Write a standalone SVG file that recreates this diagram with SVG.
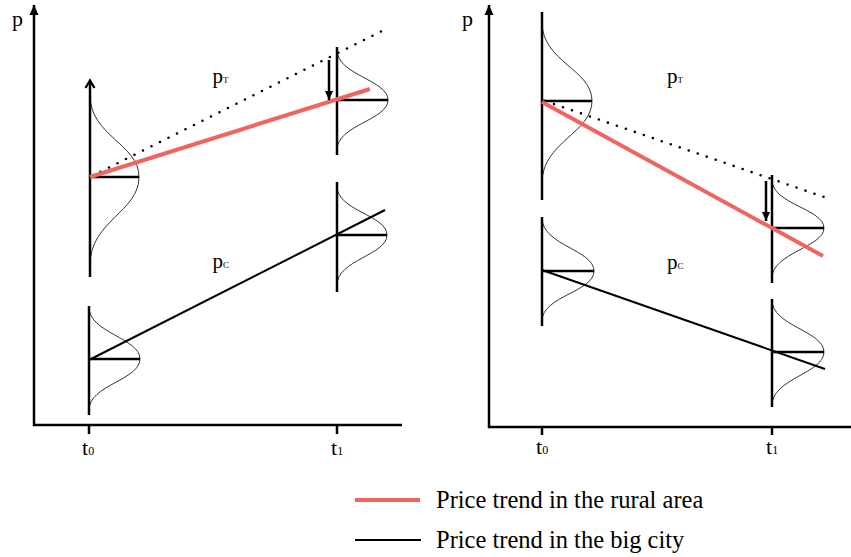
<svg xmlns="http://www.w3.org/2000/svg" width="851" height="557" viewBox="0 0 851 557">
<defs>
<style>
.ax{stroke:#000;stroke-width:2.5;fill:none}
.vl{stroke:#000;stroke-width:2.5;fill:none}
.hl{stroke:#000;stroke-width:2.3;fill:none}
.bell{stroke:#000;stroke-width:0.8;fill:none}
.city{stroke:#000;stroke-width:2;fill:none}
.rural{stroke:#f06560;stroke-width:4;fill:none;stroke-linecap:butt}
.dot{stroke:#000;stroke-width:2.6;fill:none;stroke-linecap:round;stroke-dasharray:0 9.5}
.lbl{font-family:"Liberation Serif","Times New Roman",serif;fill:#000}
</style>
<marker id="ah" viewBox="0 0 10 10" refX="10" refY="5" markerWidth="10" markerHeight="10" markerUnits="userSpaceOnUse" orient="auto">
<path d="M0,0.5 L10,5 L0,9.5 Z" fill="#000"/>
</marker>
<marker id="ahs" viewBox="0 0 10 10" refX="10" refY="5" markerWidth="10" markerHeight="9" markerUnits="userSpaceOnUse" orient="auto">
<path d="M0,0.5 L10,5 L0,9.5 Z" fill="#000"/>
</marker>
</defs>
<rect width="851" height="557" fill="#fff"/>

<g id="panel-left">
<g id="left-axes">
<line class="ax" x1="34" y1="426" x2="34" y2="5" marker-end="url(#ah)"/>
<line class="ax" x1="33" y1="425" x2="402" y2="425"/>
<line class="ax" x1="89" y1="425" x2="89" y2="434"/>
<line class="ax" x1="337" y1="425" x2="337" y2="434"/>
<text class="lbl" x="12" y="25.5" font-size="22">p</text>
<text class="lbl" x="82" y="455" font-size="22">t<tspan font-size="12">0</tspan></text>
<text class="lbl" x="331" y="455" font-size="22">t<tspan font-size="12">1</tspan></text>
</g>
<g id="left-labels">
<text class="lbl" x="212.5" y="83" font-size="21">p<tspan font-size="9">T</tspan></text>
<text class="lbl" x="212.5" y="268" font-size="21">p<tspan font-size="9">C</tspan></text>
</g>
<g id="left-dist-t0-rural">
<line class="vl" x1="90" y1="277" x2="90" y2="81"/>
<path class="hl" d="M85.5,88 L90,80.5 L94.5,88" stroke-width="1.8"/>
<line class="hl" x1="90" y1="177" x2="139" y2="177"/>
<path class="bell" d="M90,95 C90,136 139,144 139,177 C139,212 90,221 90,265"/>
</g>
<g id="left-dist-t1-rural">
<line class="vl" x1="337" y1="47" x2="337" y2="155"/>
<line class="hl" x1="337" y1="100" x2="388" y2="100"/>
<path class="bell" d="M337,50 C337,75 388,80 388,100 C388,120 337,125 337,150"/>
</g>
<g id="left-dist-t1-city">
<line class="vl" x1="337" y1="182" x2="337" y2="292"/>
<line class="hl" x1="337" y1="235" x2="387" y2="235"/>
<path class="bell" d="M337,186 C337,211 387,215 387,235 C387,255 337,260 337,285"/>
</g>
<g id="left-dist-t0-city">
<line class="vl" x1="89" y1="306" x2="89" y2="415"/>
<line class="hl" x1="89" y1="359" x2="140" y2="359"/>
<path class="bell" d="M89,307 C89,333 140,338 140,359 C140,380 89,385 89,410"/>
</g>
</g>

<g id="panel-right">
<g id="right-axes">
<line class="ax" x1="489" y1="428" x2="489" y2="5" marker-end="url(#ah)"/>
<line class="ax" x1="488" y1="427" x2="851" y2="427"/>
<line class="ax" x1="542" y1="427" x2="542" y2="435"/>
<line class="ax" x1="772" y1="427" x2="772" y2="435"/>
<text class="lbl" x="462" y="25.5" font-size="22">p</text>
<text class="lbl" x="536" y="454" font-size="22">t<tspan font-size="12">0</tspan></text>
<text class="lbl" x="766" y="454" font-size="22">t<tspan font-size="12">1</tspan></text>
</g>
<g id="right-labels">
<text class="lbl" x="667" y="83" font-size="21">p<tspan font-size="9">T</tspan></text>
<text class="lbl" x="667" y="269" font-size="21">p<tspan font-size="9">C</tspan></text>
</g>
<g id="right-dist-t0-rural">
<line class="vl" x1="542" y1="12" x2="542" y2="200"/>
<line class="hl" x1="542" y1="101" x2="592" y2="101"/>
<path class="bell" d="M542,22 C542,62 592,69 592,101 C592,133 542,142 542,183"/>
</g>
<g id="right-dist-t1-rural">
<line class="vl" x1="772" y1="175" x2="772" y2="283"/>
<line class="hl" x1="772" y1="228" x2="824" y2="228"/>
<path class="bell" d="M772,180 C772,204 824,209 824,228 C824,247 772,253 772,278"/>
</g>
<g id="right-dist-t0-city">
<line class="vl" x1="542" y1="217" x2="542" y2="326"/>
<line class="hl" x1="542" y1="271" x2="594" y2="271"/>
<path class="bell" d="M542,218 C542,245 594,250 594,271 C594,292 542,296 542,321"/>
</g>
<g id="right-dist-t1-city">
<line class="vl" x1="772" y1="299" x2="772" y2="407"/>
<line class="hl" x1="772" y1="352" x2="824" y2="352"/>
<path class="bell" d="M772,300 C772,326 824,331 824,352 C824,373 772,379 772,405"/>
</g>
</g>

<g id="connectors">
<line class="dot" x1="92" y1="176" x2="382" y2="31"/>
<line class="rural" x1="90" y1="177" x2="370" y2="89"/>
<line class="city" x1="89" y1="360" x2="385" y2="210"/>
<line class="vl" stroke-width="2" x1="329" y1="60" x2="329" y2="100" marker-end="url(#ahs)"/>
<line class="dot" x1="545" y1="101" x2="824" y2="197"/>
<line class="rural" x1="542" y1="102" x2="823" y2="256"/>
<line class="city" x1="542" y1="270" x2="825" y2="369"/>
<line class="vl" stroke-width="2" x1="766" y1="181" x2="766" y2="221" marker-end="url(#ahs)"/>
</g>

<g id="legend">
<line class="rural" x1="355" y1="500" x2="420" y2="500"/>
<text class="lbl" x="436" y="508" font-size="24.5">Price trend in the rural area</text>
<line class="city" stroke-width="2.3" x1="355" y1="540" x2="421" y2="540"/>
<text class="lbl" x="436" y="548" font-size="24.5">Price trend in the big city</text>
</g>
</svg>
